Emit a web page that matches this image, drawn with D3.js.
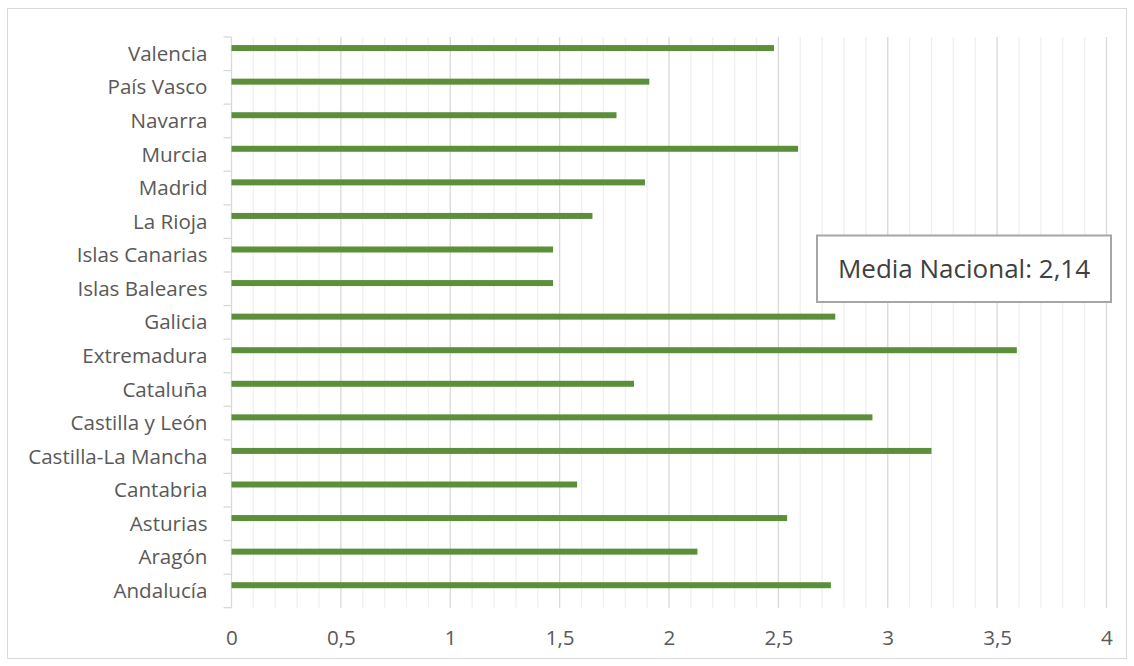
<!DOCTYPE html>
<html lang="es">
<head>
<meta charset="utf-8">
<script src="https://cdn.jsdelivr.net/npm/d3@7/dist/d3.min.js"></script>
<style>
  html, body { margin: 0; padding: 0; background: #ffffff; }
  svg { display: block; }
  text { font-family: "Open Sans", "Noto Sans", "Liberation Sans", sans-serif; }
</style>
</head>
<body>
<svg id="chart" width="1134" height="666"></svg>
<script>
// Comunidades autónomas, listed top to bottom
const regiones = [
  "Valencia", "País Vasco", "Navarra", "Murcia", "Madrid", "La Rioja",
  "Islas Canarias", "Islas Baleares", "Galicia", "Extremadura", "Cataluña",
  "Castilla y León", "Castilla-La Mancha", "Cantabria", "Asturias",
  "Aragón", "Andalucía"
];
const valores = [
  2.48, 1.91, 1.76, 2.59, 1.89, 1.65,
  1.47, 1.47, 2.76, 3.59, 1.84,
  2.93, 3.20, 1.58, 2.54,
  2.13, 2.74
];
const ticksX = [0, 0.5, 1, 1.5, 2, 2.5, 3, 3.5, 4];
const ticksMenores = d3.range(0, 41).map(i => i / 10);
const mediaNacional = 2.14;

const datos = regiones.map((r, i) => ({ region: r, valor: valores[i] }));

const svg = d3.select("#chart");
const plot = { left: 231.5, right: 1106.5, top: 37, bottom: 607.7 };

const es = d3.formatLocale({ decimal: ",", thousands: ".", grouping: [3], currency: ["", " €"] });
const fmt = es.format("~g");

const x = d3.scaleLinear().domain([0, 4]).range([plot.left, plot.right]);
const y = d3.scaleBand().domain(regiones).range([plot.top, plot.bottom]).padding(0);

// chart area frame
svg.append("rect")
  .attr("x", 7.5).attr("y", 8.5)
  .attr("width", 1119).attr("height", 650)
  .attr("fill", "#ffffff")
  .attr("stroke", "#d9d9d9").attr("stroke-width", 1);

// minor and major vertical gridlines
svg.append("g").selectAll("line")
  .data(ticksMenores.filter(v => Math.round(v * 10) % 5 !== 0))
  .join("line")
  .attr("x1", d => x(d)).attr("x2", d => x(d))
  .attr("y1", plot.top).attr("y2", plot.bottom)
  .attr("stroke", "#f0f0f0").attr("stroke-width", 1.3);

svg.append("g").selectAll("line")
  .data(ticksX.filter(v => v > 0))
  .join("line")
  .attr("x1", d => x(d)).attr("x2", d => x(d))
  .attr("y1", plot.top).attr("y2", plot.bottom)
  .attr("stroke", "#d9d9d9").attr("stroke-width", 1.3);

// category axis: line plus ticks on band boundaries
const ejeY = svg.append("g");
ejeY.append("line")
  .attr("x1", plot.left).attr("x2", plot.left)
  .attr("y1", plot.top).attr("y2", plot.bottom)
  .attr("stroke", "#d9d9d9").attr("stroke-width", 1.3);
ejeY.selectAll("line.tick")
  .data(regiones.map(r => y(r)).concat([plot.bottom]))
  .join("line").attr("class", "tick")
  .attr("x1", plot.left - 8).attr("x2", plot.left)
  .attr("y1", d => d).attr("y2", d => d)
  .attr("stroke", "#d9d9d9").attr("stroke-width", 1.3);

// category labels
svg.append("g")
  .attr("transform", `translate(${plot.left - 24},0.5)`)
  .call(d3.axisLeft(y).tickSize(0).tickPadding(0))
  .call(g => g.select(".domain").remove())
  .call(g => g.selectAll("text")
    .attr("fill", "#595959")
    .style("font-size", "20.6px"));

// value axis labels
svg.append("g")
  .attr("transform", `translate(0,${plot.bottom})`)
  .call(d3.axisBottom(x).tickValues(ticksX).tickFormat(fmt).tickSize(0).tickPadding(23))
  .call(g => g.select(".domain").remove())
  .call(g => g.selectAll("text")
    .attr("fill", "#595959")
    .style("font-size", "20.6px"));

// bars
const grosor = 6;
svg.append("g").selectAll("rect")
  .data(datos)
  .join("rect")
  .attr("x", x(0))
  .attr("y", d => y(d.region) + y.bandwidth() * 0.33 - grosor / 2)
  .attr("width", d => x(d.valor) - x(0))
  .attr("height", grosor)
  .attr("fill", "#5b8f3a");

// national average note
const nota = svg.append("g");
nota.append("rect")
  .attr("x", 817).attr("y", 235.5)
  .attr("width", 294).attr("height", 66.5)
  .attr("fill", "#ffffff")
  .attr("stroke", "#a6a6a6").attr("stroke-width", 2);
nota.append("text")
  .attr("x", 964).attr("y", 267.5)
  .attr("text-anchor", "middle")
  .attr("dominant-baseline", "central")
  .attr("fill", "#404040")
  .style("font-size", "26px")
  .text("Media Nacional: " + fmt(mediaNacional));
</script>
</body>
</html>
